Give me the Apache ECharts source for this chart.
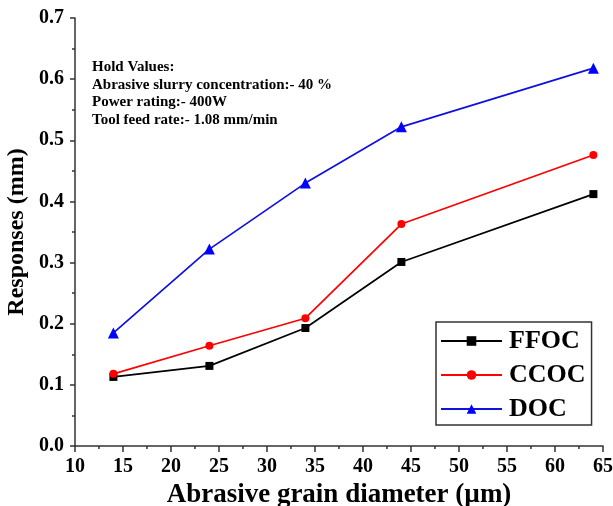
<!DOCTYPE html>
<html>
<head>
<meta charset="utf-8">
<script src="https://cdn.jsdelivr.net/npm/echarts@6/dist/echarts.min.js"></script>
<style>
html,body{margin:0;padding:0;background:#fff;}
#c{width:613px;height:506px;}
</style>
</head>
<body>
<div id="c"></div>
<script>
const grainDiameter = [14, 24, 34, 44, 64];
const ffoc = [0.113, 0.131, 0.193, 0.301, 0.412];
const ccoc = [0.118, 0.164, 0.209, 0.363, 0.476];
const doc = [0.185, 0.322, 0.430, 0.522, 0.618];
const seriesNames = ['FFOC', 'CCOC', 'DOC'];
const holdLines = [
  'Hold Values:',
  'Abrasive slurry concentration:- 40 %',
  'Power rating:- 400W',
  'Tool feed rate:- 1.08 mm/min'
];

const font = 'Liberation Serif';
const pair = arr => grainDiameter.map((x, i) => [x, arr[i]]);

const chart = echarts.init(document.getElementById('c'));
chart.setOption({
  backgroundColor: '#fff',
  animation: false,
  grid: {left: 75, right: 10, top: 18, bottom: 60, containLabel: false, outerBoundsMode: 'none'},
  xAxis: {
    type: 'value', min: 10, max: 65, interval: 5,
    name: 'Abrasive grain diameter (µm)',
    nameLocation: 'middle', nameGap: 36, nameMoveOverlap: false,
    nameTextStyle: {fontFamily: font, fontWeight: 'bold', fontSize: 27, color: '#000'},
    axisLine: {show: true, lineStyle: {color: '#333', width: 1.5}},
    axisTick: {show: true, length: 6, lineStyle: {color: '#333', width: 1.5}},
    minorTick: {show: true, splitNumber: 2, length: 3, lineStyle: {color: '#333', width: 1.5}},
    splitLine: {show: false},
    axisLabel: {fontFamily: font, fontWeight: 'bold', fontSize: 20, color: '#000', margin: 11}
  },
  yAxis: {
    type: 'value', min: 0, max: 0.7, interval: 0.1,
    name: 'Responses (mm)',
    nameLocation: 'middle', nameGap: 46, nameMoveOverlap: false,
    nameTextStyle: {fontFamily: font, fontWeight: 'bold', fontSize: 24, color: '#000'},
    axisLine: {show: true, lineStyle: {color: '#333', width: 1.5}},
    axisTick: {show: true, length: 5, lineStyle: {color: '#333', width: 1.5}},
    minorTick: {show: true, splitNumber: 2, length: 3, lineStyle: {color: '#333', width: 1.5}},
    splitLine: {show: false},
    axisLabel: {fontFamily: font, fontWeight: 'bold', fontSize: 20, color: '#000', margin: 11,
      formatter: v => v.toFixed(1)}
  },
  legend: {
    orient: 'vertical', left: 436, top: 322,
    data: seriesNames,
    backgroundColor: '#fff',
    borderColor: '#333', borderWidth: 1.5,
    padding: [6, 6, 3, 4],
    itemWidth: 61, itemHeight: 12, itemGap: 8,
    textStyle: {fontFamily: font, fontWeight: 'bold', fontSize: 26, color: '#000', lineHeight: 26, padding: [0,0,0,2]}
  },
  graphic: holdLines.map((t, i) => ({
    type: 'text', left: 92, top: 60 + i * 17.5,
    style: {text: t, font: 'bold 15px "Liberation Serif"', fill: '#000'}
  })),
  series: [
    {name: seriesNames[0], type: 'line', data: pair(ffoc), symbol: 'rect', symbolSize: 8,
      lineStyle: {color: '#000', width: 1.7}, itemStyle: {color: '#000'}},
    {name: seriesNames[1], type: 'line', data: pair(ccoc), symbol: 'circle', symbolSize: 8,
      lineStyle: {color: '#ff0000', width: 1.7}, itemStyle: {color: '#ff0000'}},
    {name: seriesNames[2], type: 'line', data: pair(doc), symbol: 'triangle', symbolSize: 11,
      lineStyle: {color: '#1010e0', width: 1.7}, itemStyle: {color: '#0000ff'}}
  ]
});
</script>
</body>
</html>
